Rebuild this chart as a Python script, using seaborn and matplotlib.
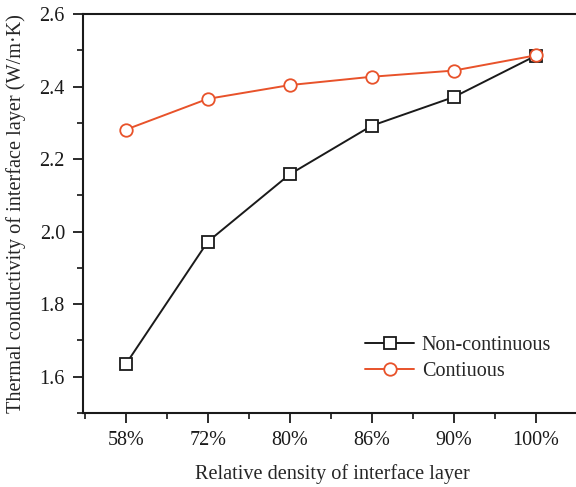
import matplotlib
matplotlib.use("Agg")
import matplotlib.pyplot as plt
import seaborn as sns
import pandas as pd
from matplotlib.ticker import MultipleLocator, FixedLocator

categories = ["58%", "72%", "80%", "86%", "90%", "100%"]
non_continuous = [1.634, 1.972, 2.158, 2.292, 2.371, 2.485]
continuous = [2.281, 2.366, 2.404, 2.427, 2.444, 2.486]
series_names = ["Non-continuous", "Contiuous"]

sns.set_style("ticks")
plt.rcParams["font.family"] = ["Liberation Serif", "DejaVu Serif"]

fig = plt.figure(figsize=(5.76, 4.87), dpi=100)
ax = fig.add_axes([83/576, 1 - 413/487, (576 - 83)/576 + 0.01, (413 - 14)/487])

df = pd.DataFrame({"x": list(range(len(categories))) * 2,
                   "y": non_continuous + continuous,
                   "s": [series_names[0]] * 6 + [series_names[1]] * 6})

colors = {"Non-continuous": "#1a1a1a", "Contiuous": "#e8522a"}
markers = {"Non-continuous": "s", "Contiuous": "o"}
for name in series_names:
    sub = df[df["s"] == name]
    sns.lineplot(data=sub, x="x", y="y", ax=ax, color=colors[name],
                 marker=markers[name], markersize=9 if name == "Contiuous" else 8,
                 markerfacecolor="white", markeredgecolor=colors[name],
                 markeredgewidth=1.3, linewidth=1.4, label=name, sort=False)

ax.set_xlim(-0.52, 5.56)
ax.set_ylim(1.5, 2.6)
ax.set_xticks(range(len(categories)))
ax.set_xticklabels(categories)
ax.xaxis.set_minor_locator(FixedLocator([i + 0.5 for i in range(-1, 6)]))
ax.yaxis.set_major_locator(MultipleLocator(0.2))
ax.yaxis.set_minor_locator(MultipleLocator(0.1))
ax.yaxis.set_major_formatter(matplotlib.ticker.FormatStrFormatter("%.1f"))
ax.tick_params(axis="both", which="major", direction="out", length=7, width=1.3,
               labelsize=14.5, colors="#1a1a1a", pad=6)
ax.tick_params(axis="both", which="minor", direction="out", length=4, width=1.3)
for sp in ["left", "bottom", "top"]:
    ax.spines[sp].set_linewidth(1.5)
    ax.spines[sp].set_color("#1a1a1a")
ax.spines["right"].set_visible(False)

ax.set_xlabel("Relative density of interface layer", fontsize=14.6, labelpad=10)
ax.set_ylabel("Thermal conductivity of interface layer (W/m·K)", fontsize=14.6, labelpad=10)

leg = ax.legend(loc="lower right", bbox_to_anchor=(0.975, 0.035), frameon=False,
                fontsize=14.5, handlelength=2.4, handletextpad=0.4, labelspacing=0.35)

fig.savefig("out.png", dpi=100)
